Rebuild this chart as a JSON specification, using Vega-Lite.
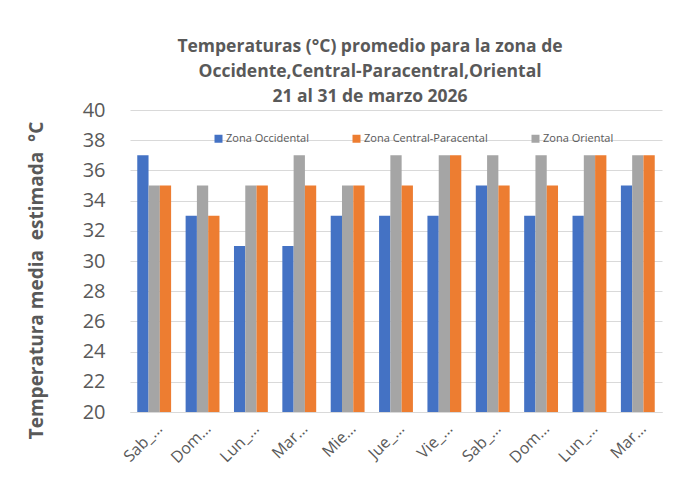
{
  "$schema": "https://vega.github.io/schema/vega-lite/v6.json",
  "autosize": {"type": "none"},
  "width": 532,
  "height": 302,
  "padding": {"left": 130, "top": 110, "right": 16, "bottom": 69},
  "background": "white",
  "title": {
    "text": ["Temperaturas (°C) promedio para la zona de", "Occidente,Central-Paracentral,Oriental", "21 al 31 de marzo 2026"],
    "font": "Open Sans",
    "fontSize": 17.5,
    "fontWeight": "bold",
    "color": "#595959",
    "anchor": "middle",
    "frame": "group",
    "dx": -26,
    "offset": -5,
    "lineHeight": 25
  },
  "data": {
    "values": [
      {"dia": "Sab_21", "zona": "Zona Occidental", "temp": 37},
      {"dia": "Sab_21", "zona": "Zona Oriental", "temp": 35},
      {"dia": "Sab_21", "zona": "Zona Central-Paracental", "temp": 35},
      {"dia": "Dom_22", "zona": "Zona Occidental", "temp": 33},
      {"dia": "Dom_22", "zona": "Zona Oriental", "temp": 35},
      {"dia": "Dom_22", "zona": "Zona Central-Paracental", "temp": 33},
      {"dia": "Lun_23", "zona": "Zona Occidental", "temp": 31},
      {"dia": "Lun_23", "zona": "Zona Oriental", "temp": 35},
      {"dia": "Lun_23", "zona": "Zona Central-Paracental", "temp": 35},
      {"dia": "Mar_24", "zona": "Zona Occidental", "temp": 31},
      {"dia": "Mar_24", "zona": "Zona Oriental", "temp": 37},
      {"dia": "Mar_24", "zona": "Zona Central-Paracental", "temp": 35},
      {"dia": "Mie_25", "zona": "Zona Occidental", "temp": 33},
      {"dia": "Mie_25", "zona": "Zona Oriental", "temp": 35},
      {"dia": "Mie_25", "zona": "Zona Central-Paracental", "temp": 35},
      {"dia": "Jue_26", "zona": "Zona Occidental", "temp": 33},
      {"dia": "Jue_26", "zona": "Zona Oriental", "temp": 37},
      {"dia": "Jue_26", "zona": "Zona Central-Paracental", "temp": 35},
      {"dia": "Vie_27", "zona": "Zona Occidental", "temp": 33},
      {"dia": "Vie_27", "zona": "Zona Oriental", "temp": 37},
      {"dia": "Vie_27", "zona": "Zona Central-Paracental", "temp": 37},
      {"dia": "Sab_28", "zona": "Zona Occidental", "temp": 35},
      {"dia": "Sab_28", "zona": "Zona Oriental", "temp": 37},
      {"dia": "Sab_28", "zona": "Zona Central-Paracental", "temp": 35},
      {"dia": "Dom_29", "zona": "Zona Occidental", "temp": 33},
      {"dia": "Dom_29", "zona": "Zona Oriental", "temp": 37},
      {"dia": "Dom_29", "zona": "Zona Central-Paracental", "temp": 35},
      {"dia": "Lun_30", "zona": "Zona Occidental", "temp": 33},
      {"dia": "Lun_30", "zona": "Zona Oriental", "temp": 37},
      {"dia": "Lun_30", "zona": "Zona Central-Paracental", "temp": 37},
      {"dia": "Mar_31", "zona": "Zona Occidental", "temp": 35},
      {"dia": "Mar_31", "zona": "Zona Oriental", "temp": 37},
      {"dia": "Mar_31", "zona": "Zona Central-Paracental", "temp": 37}
    ]
  },
  "mark": {"type": "bar", "clip": true},
  "encoding": {
    "x": {
      "field": "dia",
      "type": "nominal",
      "sort": null,
      "scale": {"paddingInner": 0.3, "paddingOuter": 0.15},
      "axis": {
        "title": null,
        "labelAngle": -45,
        "labelFont": "Open Sans",
        "labelFontSize": 16,
        "labelColor": "#595959",
        "labelPadding": 8,
        "ticks": false,
        "domainColor": "#d9d9d9",
        "domainWidth": 1,
        "labelExpr": "test(/^[DM]/, datum.value) ? slice(datum.value, 0, 3) + '…' : slice(datum.value, 0, 4) + '…'"
      }
    },
    "xOffset": {
      "field": "zona",
      "type": "nominal",
      "sort": ["Zona Occidental", "Zona Oriental", "Zona Central-Paracental"],
      "scale": {"paddingInner": 0}
    },
    "y": {
      "field": "temp",
      "type": "quantitative",
      "scale": {"domain": [20, 40], "zero": false, "nice": false},
      "axis": {
        "values": [20, 22, 24, 26, 28, 30, 32, 34, 36, 38, 40],
        "title": "Temperatura media\u00a0 estimada\u00a0 °C",
        "titleFont": "Open Sans",
        "titleFontSize": 19,
        "titleFontWeight": "bold",
        "titleColor": "#595959",
        "titleX": -84,
        "titleY": 170,
        "titleAlign": "center",
        "labelFont": "Open Sans",
        "labelFontSize": 20,
        "labelColor": "#595959",
        "labelPadding": 25,
        "ticks": false,
        "domain": false,
        "gridColor": "#d9d9d9",
        "gridWidth": 1
      }
    },
    "color": {
      "field": "zona",
      "type": "nominal",
      "scale": {
        "domain": ["Zona Occidental", "Zona Central-Paracental", "Zona Oriental"],
        "range": ["#4472C4", "#ED7D31", "#A5A5A5"]
      },
      "legend": {
        "title": null,
        "orient": "none",
        "legendX": 83,
        "legendY": 23,
        "direction": "horizontal",
        "symbolType": "square",
        "symbolSize": 64,
        "symbolStrokeWidth": 0,
        "labelFont": "Open Sans",
        "labelFontSize": 11,
        "labelColor": "#595959",
        "labelOffset": 2,
        "columnPadding": 42
      }
    }
  },
  "config": {
    "view": {"stroke": null},
    "font": "Open Sans"
  }
}
